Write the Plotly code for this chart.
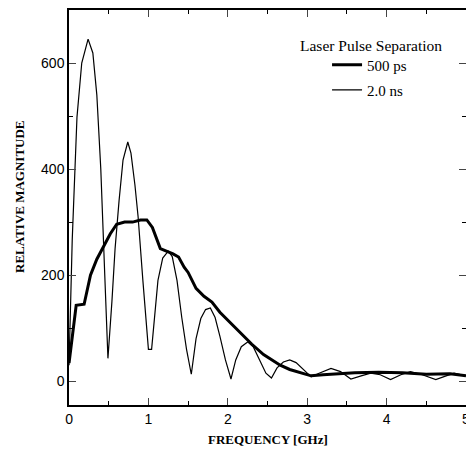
import plotly.graph_objects as go

# 500 ps (thick line)
thick_x = [0, 0.05, 0.09, 0.19, 0.27, 0.35, 0.43, 0.52, 0.6, 0.7, 0.8, 0.9, 0.98, 1.05,
           1.15, 1.24, 1.31, 1.38, 1.45, 1.5, 1.6, 1.7, 1.8, 1.9, 2.0, 2.1, 2.2, 2.3,
           2.45, 2.55, 2.66, 2.78, 2.87, 2.95, 3.05, 3.2, 3.4, 3.6, 3.9, 4.2, 4.5, 4.8, 5.0]
thick_y = [34, 100, 143, 145, 200, 230, 253, 278, 296, 300, 300, 304, 304, 290,
           250, 245, 240, 234, 215, 205, 175, 160, 149, 130, 115, 100, 84, 70,
           50, 40, 30, 22, 18, 14, 10, 12, 14, 16, 17, 16, 13, 14, 10]

# 2.0 ns (thin line)
thin_x = [0, 0.04, 0.1, 0.16, 0.24, 0.3, 0.35, 0.4, 0.45, 0.49,
          0.54, 0.58, 0.63, 0.68, 0.74, 0.78, 0.83, 0.87, 0.93, 0.97, 1.0, 1.04,
          1.08, 1.12, 1.18, 1.25, 1.3, 1.36, 1.42, 1.48, 1.54,
          1.6, 1.66, 1.72, 1.78, 1.84, 1.9, 1.97, 2.04,
          2.1, 2.17, 2.25, 2.32, 2.4, 2.48, 2.55,
          2.62, 2.7, 2.78, 2.86, 2.95, 3.05,
          3.15, 3.3, 3.42, 3.55, 3.68, 3.8, 3.92, 4.05, 4.18, 4.3, 4.45, 4.62, 4.75, 4.85, 5.0]
thin_y = [30, 266, 498, 600, 645, 619, 540, 400, 200, 43,
          150, 250, 340, 417, 451, 430, 370, 310, 190, 110, 60, 60,
          120, 190, 232, 245, 235, 190, 120, 60, 13,
          80, 118, 135, 138, 120, 85, 40, 4,
          40, 65, 74, 65, 40, 15, 6,
          25, 36, 40, 35, 22, 8,
          15, 24, 18, 4, 10, 15, 12, 3, 12, 18, 12, 3, 10, 15, 10]

x_ticks = [0, 1, 2, 3, 4, 5]
y_ticks = [0, 200, 400, 600]

fig = go.Figure()
fig.add_trace(go.Scatter(x=thick_x, y=thick_y, mode="lines", name="500 ps",
                         line=dict(color="black", width=3), legend="legend"))
fig.add_trace(go.Scatter(x=thin_x, y=thin_y, mode="lines", name="2.0 ns",
                         line=dict(color="black", width=1.2), legend="legend2"))

serif = "Liberation Serif, Times New Roman, serif"
sans = "Liberation Sans, Arial, sans-serif"

fig.update_layout(
    width=466, height=440,
    margin=dict(l=61, r=8, t=2, b=43),
    paper_bgcolor="white", plot_bgcolor="white",
    showlegend=True,
    font=dict(family=sans, color="black", size=14),
    xaxis=dict(range=[-0.0005, 5.0005], tickvals=x_ticks, ticks="inside", ticklen=7, tickwidth=1,
               showline=True, linecolor="black", linewidth=1.5, mirror="allticks",
               showgrid=False, zeroline=False, automargin=False, ticklabeloverflow="allow",
               minor=dict(tickvals=[0.5, 1.5, 2.5, 3.5, 4.5], ticks="inside", ticklen=4, tickcolor="black"),
               tickfont=dict(family=sans, size=14)),
    yaxis=dict(range=[-45, 700], tickvals=y_ticks, ticks="inside", ticklen=7, tickwidth=1,
               showline=True, linecolor="black", linewidth=1.5, mirror="allticks",
               showgrid=False, zeroline=False, automargin=False,
               minor=dict(tickvals=[100, 300, 500], ticks="inside", ticklen=4, tickcolor="black"),
               tickfont=dict(family=sans, size=14)),
    legend=dict(x=0.65, y=0.861, xanchor="left", yanchor="middle", bgcolor="rgba(0,0,0,0)",
                font=dict(family=serif, size=15)),
    legend2=dict(x=0.65, y=0.797, xanchor="left", yanchor="middle", bgcolor="rgba(0,0,0,0)",
                 font=dict(family=serif, size=15)),
    annotations=[
        dict(text="Laser Pulse Separation", xref="paper", yref="paper",
             x=0.576, y=0.909, xanchor="left", yanchor="middle", showarrow=False,
             font=dict(family=serif, size=15.5)),
        dict(text="<b>FREQUENCY [GHz]</b>", xref="paper", yref="paper",
             x=0.5, y=-0.088, xanchor="center", yanchor="middle", showarrow=False,
             font=dict(family=serif, size=13)),
        dict(text="<b>RELATIVE MAGNITUDE</b>", xref="paper", yref="paper",
             x=-0.123, y=0.527, xanchor="center", yanchor="middle", showarrow=False,
             textangle=-90, font=dict(family=serif, size=13)),
    ],
)

fig.write_html("out.html")
